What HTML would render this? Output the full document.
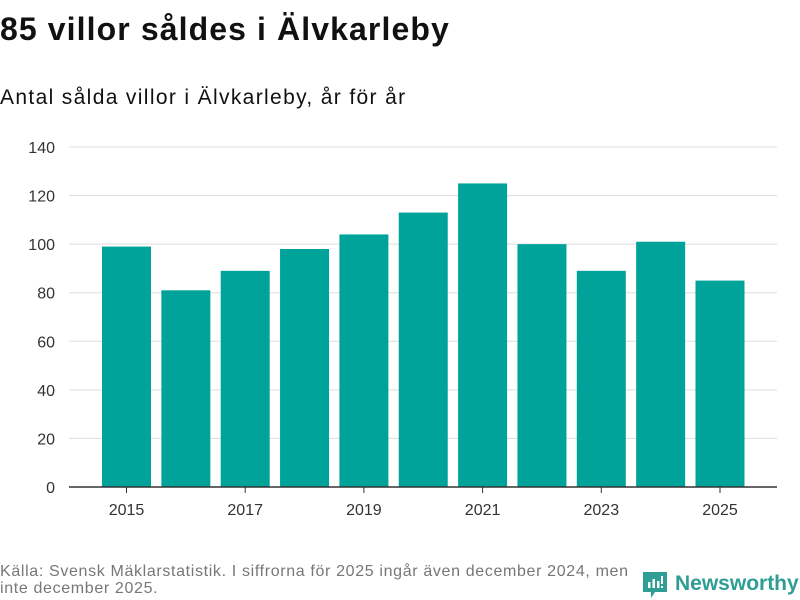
<!DOCTYPE html>
<html><head><meta charset="utf-8"><style>
body{margin:0;width:800px;height:600px;background:#fff;font-family:"Liberation Sans","DejaVu Sans",sans-serif;position:relative;overflow:hidden}
h1{position:absolute;left:0;top:11px;margin:0;font-size:32px;font-weight:bold;color:#111;letter-spacing:1.1px}
.sub{position:absolute;left:0;top:86px;font-size:21px;color:#111;letter-spacing:1.35px}
.src{position:absolute;left:0;top:563px;font-size:16px;color:#777;line-height:17px;width:640px;letter-spacing:0.65px}
.logo{position:absolute;left:643px;top:570px;display:flex;align-items:center;color:#2e9e94;font-weight:bold;font-size:21px}
</style></head><body>
<h1>85 villor såldes i Älvkarleby</h1>
<div class="sub">Antal sålda villor i Älvkarleby, år för år</div>
<svg id="c" width="800" height="600" style="position:absolute;left:0;top:0"></svg>
<div class="src">Källa: Svensk Mäklarstatistik. I siffrorna för 2025 ingår även december 2024, men inte december 2025.</div>
<div class="logo">
<svg width="24" height="28" viewBox="0 0 24 28" style="margin-right:8px"><path d="M0 2h24v20H12l-4 6v-6H0z" fill="#2e9e94"/><rect x="5" y="12" width="2.5" height="6" fill="#fff"/><rect x="9.5" y="9" width="2.5" height="9" fill="#fff"/><rect x="14" y="11" width="2.5" height="7" fill="#fff"/><rect x="18" y="6" width="2" height="8" fill="#fff"/><rect x="18" y="16" width="2" height="2" fill="#fff"/></svg>Newsworthy</div>
<script>
const years=[2015,2016,2017,2018,2019,2020,2021,2022,2023,2024,2025];
const values=[99,81,89,98,104,113,125,100,89,101,85];
const yTicks=[0,20,40,60,80,100,120,140];
const xLabels=[2015,2017,2019,2021,2023,2025];
const svg=document.getElementById('c');const NS='http://www.w3.org/2000/svg';
const y=v=>487-v*(340/140);
const x=i=>126.5+i*59.35;
function mk(t,a){const e=document.createElementNS(NS,t);for(const k in a)e.setAttribute(k,a[k]);svg.appendChild(e);return e;}
yTicks.forEach(t=>{
 if(t>0){const l=mk('line',{x1:69,x2:777,y1:y(t),y2:y(t),stroke:'#ddd','stroke-width':1});
 
 }
 const tx=mk('text',{x:55,y:y(t)+6,'text-anchor':'end','font-size':16,fill:'#333','font-family':'Liberation Sans, sans-serif'});tx.textContent=t;
 
 
});
values.forEach((v,i)=>{const r=mk('rect',{x:x(i)-24.5,y:y(v),width:49,height:487-y(v),fill:'#00a399'});
 
 });
const ax=mk('line',{x1:69,x2:777,y1:487,y2:487,stroke:'#333','stroke-width':1.5});


xLabels.forEach(yr=>{const i=years.indexOf(yr);
 mk('line',{x1:x(i),x2:x(i),y1:487,y2:493,stroke:'#333'});
 const tx=mk('text',{x:x(i),y:515,'text-anchor':'middle','font-size':16,fill:'#333','font-family':'Liberation Sans, sans-serif'});tx.textContent=yr;
 
 });
</script>
</body></html>
